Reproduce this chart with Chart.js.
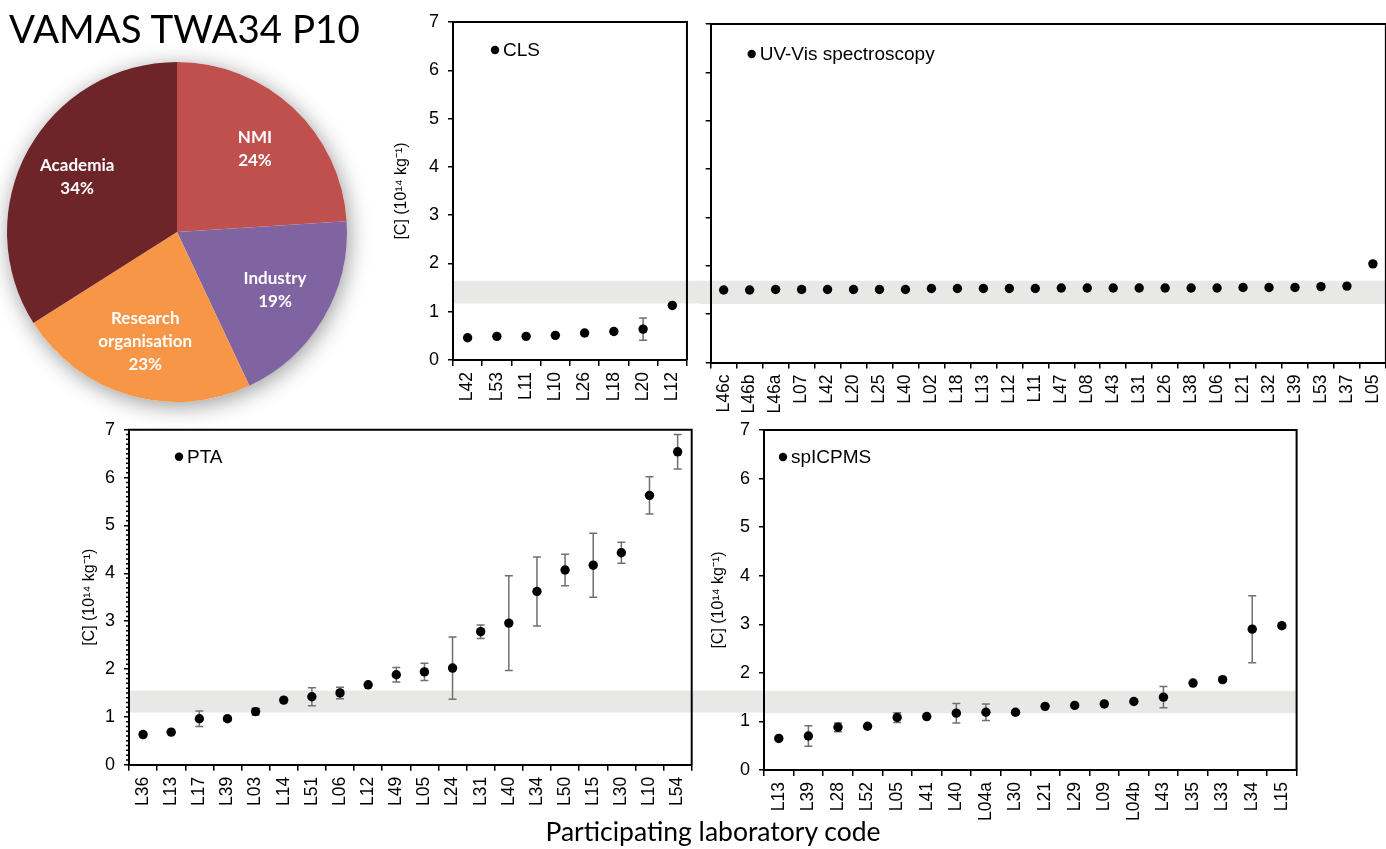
<!DOCTYPE html>
<html><head><meta charset="utf-8">
<script src="https://cdn.jsdelivr.net/npm/chart.js@4.4.0/dist/chart.umd.min.js"></script>
<style>
html,body{margin:0;padding:0;background:#fff;width:1386px;height:849px;overflow:hidden;position:relative;}
canvas{position:absolute;}
#title{position:absolute;left:9px;top:9px;font-family:Lato,sans-serif;font-size:38.5px;line-height:1;color:#000;white-space:nowrap;z-index:5;}
#xtitle{position:absolute;left:413px;width:600px;text-align:center;top:818px;font-family:Lato,sans-serif;font-size:26.5px;line-height:1;color:#000;white-space:nowrap;}
</style></head>
<body>
<div id="title">VAMAS TWA34 P10</div>
<canvas id="pie" width="380" height="400" style="left:0;top:40px"></canvas>
<canvas id="cls" width="308" height="425" style="left:392px;top:0"></canvas>
<canvas id="uv" width="700" height="425" style="left:700px;top:0"></canvas>
<canvas id="pta" width="685" height="417" style="left:80px;top:410px"></canvas>
<canvas id="sp" width="600" height="422" style="left:709px;top:410px"></canvas>
<div id="xtitle">Participating laboratory code</div>
<script>
// ---------- data ----------
const pieCats = ['NMI', 'Industry', 'Research organisation', 'Academia'];
const pieVals = [24, 19, 23, 34];
const pieColors = ['#C0504D', '#8064A2', '#F79646', '#6E2529'];

const clsLabels = ['L42','L53','L11','L10','L26','L18','L20','L12'];
const clsVals   = [0.46,0.49,0.49,0.51,0.56,0.59,0.64,1.13];
const clsErr    = [0,0,0,0,0,0,0.23,0];
const clsBand   = [1.17, 1.64];

const uvLabels = ['L46c','L46b','L46a','L07','L42','L20','L25','L40','L02','L18','L13','L12','L11','L47','L08','L43','L31','L26','L38','L06','L21','L32','L39','L53','L37','L05'];
const uvVals   = [1.50,1.50,1.51,1.51,1.51,1.51,1.51,1.51,1.53,1.53,1.53,1.53,1.53,1.54,1.54,1.54,1.54,1.54,1.54,1.54,1.55,1.55,1.55,1.57,1.58,2.04];
const uvErr    = [0,0,0,0.05,0,0,0,0,0,0,0,0,0,0,0,0,0,0,0,0,0,0,0,0,0,0];
const uvBand   = [1.21, 1.69];

const ptaLabels = ['L36','L13','L17','L39','L03','L14','L51','L06','L12','L49','L05','L24','L31','L40','L34','L50','L15','L30','L10','L54'];
const ptaVals   = [0.63,0.68,0.96,0.96,1.11,1.35,1.42,1.50,1.67,1.88,1.94,2.02,2.78,2.96,3.62,4.07,4.17,4.43,5.63,6.54];
const ptaErr    = [0,0,0.16,0.05,0.07,0,0.19,0.12,0,0.15,0.18,0.65,0.14,0.99,0.72,0.33,0.67,0.22,0.39,0.36];
const ptaBand   = [1.09, 1.55];

const spLabels = ['L13','L39','L28','L52','L05','L41','L40','L04a','L30','L21','L29','L09','L04b','L43','L35','L33','L34','L15'];
const spVals   = [0.65,0.70,0.88,0.90,1.08,1.10,1.17,1.19,1.19,1.31,1.33,1.36,1.41,1.50,1.79,1.86,2.90,2.97];
const spErr    = [0,0.21,0.09,0,0.10,0,0.20,0.17,0.04,0,0,0,0,0.22,0,0,0.69,0.05];
const spBand   = [1.17, 1.63];

const yTicks = [0,1,2,3,4,5,6,7];
const yTitle = '[C] (10\u00B9\u2074 kg\u207B\u00B9)';

// ---------- plugins ----------
const ARIAL = '"Liberation Sans", Arial, sans-serif';
const deco = {
  id: 'deco',
  beforeDraw(chart, args, o) {
    if (!o.band) return;
    const {ctx, chartArea: a} = chart; const y = chart.scales.y;
    const yHi = y.getPixelForValue(o.band[1]), yLo = y.getPixelForValue(o.band[0]);
    const x0 = o.extL ? 0 : a.left, x1 = o.extR ? chart.width : a.right;
    ctx.save(); ctx.fillStyle = '#E8E9E7'; ctx.fillRect(x0, yHi, x1 - x0, yLo - yHi); ctx.restore();
  },
  beforeDatasetsDraw(chart, args, o) {
    const errs = o.errs; if (!errs) return;
    const {ctx} = chart; const x = chart.scales.x, y = chart.scales.y;
    const vals = chart.data.datasets[0].data;
    ctx.save(); ctx.strokeStyle = '#707070'; ctx.lineWidth = 1.5;
    errs.forEach((e, i) => {
      if (!e) return;
      const px = x.getPixelForValue(i);
      const t = y.getPixelForValue(vals[i] + e), b = y.getPixelForValue(vals[i] - e);
      ctx.beginPath();
      ctx.moveTo(px, t); ctx.lineTo(px, b);
      ctx.moveTo(px - 4, t); ctx.lineTo(px + 4, t);
      ctx.moveTo(px - 4, b); ctx.lineTo(px + 4, b);
      ctx.stroke();
    });
    ctx.restore();
  },
  afterDatasetsDraw(chart, args, o) {
    const {ctx, chartArea: a} = chart;
    ctx.save();
    ctx.strokeStyle = '#000'; ctx.lineWidth = 2;
    ctx.beginPath(); ctx.moveTo(a.left - 1, a.top); ctx.lineTo(a.right, a.top); ctx.lineTo(a.right, a.bottom); ctx.stroke();
    if (o.minor) {
      const y = chart.scales.y; ctx.lineWidth = 1.5; ctx.beginPath();
      for (let k = 0; k <= 70; k++) { if (k % 10 === 0) continue; const py = y.getPixelForValue(k / 10); ctx.moveTo(a.left - 3, py); ctx.lineTo(a.left, py); }
      ctx.stroke();
    }
    if (o.leg) {
      const lx = a.left + o.leg[0], ly = a.top + o.leg[1];
      ctx.fillStyle = '#000'; ctx.beginPath(); ctx.arc(lx, ly, 4.2, 0, Math.PI * 2); ctx.fill();
      ctx.font = '19px ' + ARIAL; ctx.textBaseline = 'middle'; ctx.textAlign = 'left';
      ctx.fillText(chart.data.datasets[0].label, lx + 8, ly + 1);
    }
    ctx.restore();
  }
};

function makeScatter(id, name, labels, vals, errs, band, cfg) {
  return new Chart(document.getElementById(id), {
    type: 'line',
    data: { labels: labels, datasets: [{ label: name, data: vals, showLine: false,
      pointRadius: 4.7, pointHoverRadius: 4.7, pointBorderWidth: 0,
      pointBackgroundColor: '#000', pointBorderColor: '#000' }] },
    options: {
      responsive: false, animation: false, events: [],
      layout: { padding: cfg.pad },
      plugins: { legend: { display: false }, tooltip: { enabled: false },
        deco: { band: band, errs: errs, leg: cfg.leg, extL: cfg.extL, extR: cfg.extR, minor: cfg.minor } },
      scales: {
        x: { type: 'category', offset: true,
          grid: { offset: true, drawOnChartArea: false, tickLength: 6, color: '#000', lineWidth: 1.5 },
          border: { color: '#000', width: 2 },
          ticks: { minRotation: 90, maxRotation: 90, autoSkip: false, color: '#000', padding: 6,
            font: { family: ARIAL, size: 17.5 } },
          afterFit: s => { s.height = cfg.xh; } },
        y: { min: 0, max: 7,
          afterBuildTicks: s => { s.ticks = yTicks.map(v => ({ value: v })); },
          grid: { drawOnChartArea: false, tickLength: 5, color: '#000', lineWidth: 1.5 },
          border: { color: '#000', width: 2 },
          ticks: { display: cfg.yLabels, color: '#000', padding: 9, font: { family: ARIAL, size: 18 } },
          title: { display: cfg.yLabels, text: yTitle, color: '#000', padding: 0, font: { family: ARIAL, size: 16 } },
          afterFit: s => { s.width = cfg.yw; } }
      }
    },
    plugins: [deco]
  });
}

makeScatter('cls', 'CLS', clsLabels, clsVals, clsErr, clsBand,
  { pad: { top: 22, right: 10.7, left: 0, bottom: 0 }, xh: 65, yw: 61, yLabels: true, leg: [42, 28], extR: true });
makeScatter('uv', 'UV-Vis spectroscopy', uvLabels, uvVals, uvErr, uvBand,
  { pad: { top: 24, right: 5.5, left: 0, bottom: 0 }, xh: 62.5, yw: 10.7, yLabels: false, leg: [41, 30], extL: true, extR: true });
makeScatter('pta', 'PTA', ptaLabels, ptaVals, ptaErr, ptaBand,
  { pad: { top: 17, right: 73.3, left: 0, bottom: 0 }, xh: 62.3, yw: 49, yLabels: true, leg: [50, 27], extR: true, minor: true });
makeScatter('sp', 'spICPMS', spLabels, spVals, spErr, spBand,
  { pad: { top: 20, right: 7, left: 0, bottom: 0 }, xh: 62, yw: 55, yLabels: true, leg: [19, 27] });

// ---------- pie ----------
const pieDeco = {
  id: 'pieDeco',
  beforeDatasetsDraw(chart) {
    const arc = chart.getDatasetMeta(0).data[0]; if (!arc) return;
    const ctx = chart.ctx; ctx.save();
    ctx.shadowColor = 'rgba(0,0,0,0.4)'; ctx.shadowBlur = 22; ctx.shadowOffsetX = 2; ctx.shadowOffsetY = 4;
    ctx.fillStyle = '#fff'; ctx.beginPath(); ctx.arc(arc.x, arc.y, arc.outerRadius, 0, Math.PI * 2); ctx.fill();
    ctx.restore();
  },
  afterDatasetsDraw(chart) {
    const ctx = chart.ctx; const meta = chart.getDatasetMeta(0);
    ctx.save(); ctx.fillStyle = '#fff'; ctx.textAlign = 'center'; ctx.textBaseline = 'middle';
    ctx.font = 'bold 17px Lato, sans-serif';
    meta.data.forEach((arc, i) => {
      const mid = (arc.startAngle + arc.endAngle) / 2, r = arc.outerRadius * 0.67;
      const cx = arc.x + Math.cos(mid) * r, cy = arc.y + Math.sin(mid) * r;
      const name = chart.data.labels[i];
      const lines = (name.length > 10 ? name.split(' ') : [name]).concat([chart.data.datasets[0].data[i] + '%']);
      const lh = 23, y0 = cy - (lines.length - 1) * lh / 2;
      lines.forEach((t, k) => ctx.fillText(t, cx, y0 + k * lh));
    });
    ctx.restore();
  }
};
new Chart(document.getElementById('pie'), {
  type: 'pie',
  data: { labels: pieCats, datasets: [{ data: pieVals, backgroundColor: pieColors, borderWidth: 0 }] },
  options: { responsive: false, animation: false, events: [],
    layout: { padding: { left: 7, top: 22, right: 33, bottom: 38 } },
    plugins: { legend: { display: false }, tooltip: { enabled: false } } },
  plugins: [pieDeco]
});
</script>
</body></html>
